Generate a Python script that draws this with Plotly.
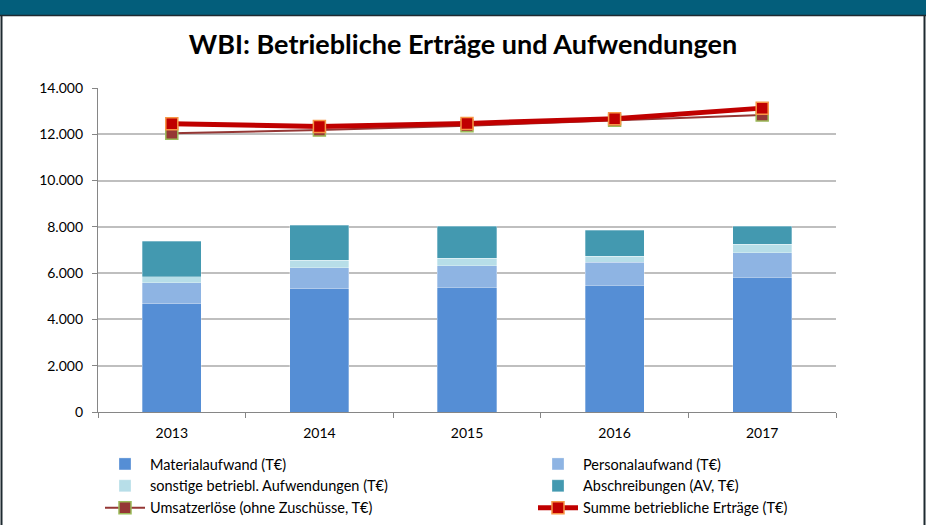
import plotly.graph_objects as go

years = ["2013", "2014", "2015", "2016", "2017"]
material = [4674, 5323, 5384, 5484, 5830]
personal = [909, 909, 935, 995, 1052]
sonstige = [260, 320, 333, 260, 363]
abschreibungen = [1545, 1515, 1385, 1125, 779]
umsatz = [12050, 12180, 12370, 12610, 12830]
summe = [12450, 12340, 12470, 12670, 13130]
y_ticks = [0, 2000, 4000, 6000, 8000, 10000, 12000, 14000]

W, H = 926, 525
L, R, T, B = 98, 90, 88, 113
PW, PH = W - L - R, H - T - B

def px(x):
    return (x - L) / PW

def py(y):
    return (H - B - y) / PH

font = "Lato, 'Open Sans', sans-serif"

fig = go.Figure()
bar_specs = [
    ("Materialaufwand (T€)", material, "#558ED5", "legend"),
    ("Personalaufwand (T€)", personal, "#8EB4E3", "legend2"),
    ("sonstige betriebl. Aufwendungen (T€)", sonstige, "#B7DEE8", "legend"),
    ("Abschreibungen (AV, T€)", abschreibungen, "#4399B0", "legend2"),
]
for name, vals, col, lg in bar_specs:
    fig.add_trace(go.Bar(x=years, y=vals, name=name, legend=lg,
                         marker=dict(color=col, line=dict(color="rgba(255,255,255,0.5)", width=0.6))))

fig.add_trace(go.Scatter(x=years, y=umsatz, name="Umsatzerlöse (ohne Zuschüsse, T€)",
                         mode="lines+markers", legend="legend",
                         line=dict(color="#953735", width=2),
                         marker=dict(symbol="square", size=12, color="#953735",
                                     line=dict(color="#9BBB59", width=1.5))))
fig.add_trace(go.Scatter(x=years, y=summe, name="Summe betriebliche Erträge (T€)",
                         mode="lines+markers", legend="legend2",
                         line=dict(color="#C00000", width=5),
                         marker=dict(symbol="square", size=12, color="#C00000",
                                     line=dict(color="#F79646", width=1.5))))

shapes = [
    dict(type="rect", xref="paper", yref="paper", x0=px(0), x1=px(W), y0=py(15), y1=py(0),
         fillcolor="#035E7B", line=dict(width=0), layer="below"),
    dict(type="line", xref="paper", yref="paper", x0=px(0), x1=px(W), y0=py(15.5), y1=py(15.5),
         line=dict(color="#1E2A30", width=1.5)),
    dict(type="line", xref="paper", yref="paper", x0=px(1.5), x1=px(1.5), y0=py(15), y1=py(H),
         line=dict(color="#1E2A30", width=2)),
    dict(type="line", xref="paper", yref="paper", x0=px(924.5), x1=px(924.5), y0=py(15), y1=py(H),
         line=dict(color="#1E2A30", width=2)),
]

legend_common = dict(orientation="v", xanchor="left", yanchor="top", traceorder="normal",
                     font=dict(family=font, size=14.5, color="#000000"),
                     bgcolor="rgba(0,0,0,0)", itemwidth=40, tracegroupgap=0)

fig.update_layout(
    width=W, height=H,
    margin=dict(l=L, r=R, t=T, b=B, autoexpand=False),
    paper_bgcolor="white", plot_bgcolor="white",
    barmode="stack", bargap=0.6,
    separators=",.",
    font=dict(family=font, size=14, color="#000000"),
    title=dict(text="<b>WBI: Betriebliche Erträge und Aufwendungen</b>",
               x=0.5, xanchor="center", y=1 - 45 / H, yanchor="middle",
               font=dict(family=font, size=27, color="#000000")),
    showlegend=True,
    legend=dict(x=px(100), y=py(448), **legend_common),
    legend2=dict(x=px(533), y=py(448), **legend_common),
    shapes=shapes,
)
fig.update_xaxes(showline=True, linecolor="#868686", linewidth=1.3,
                 ticks="outside", tickson="boundaries", ticklen=5, tickcolor="#868686",
                 showgrid=False, tickfont=dict(size=14), ticklabelstandoff=8)
fig.update_yaxes(range=[0, 14000], tickvals=y_ticks, tickformat=",d",
                 showline=True, linecolor="#868686", linewidth=1.3,
                 ticks="outside", ticklen=5, tickcolor="#868686",
                 showgrid=True, gridcolor="#BFBFBF", gridwidth=1.5,
                 zeroline=False, tickfont=dict(size=14), ticklabelstandoff=6)

fig.write_html("out.html", config={"displayModeBar": False},
               post_script="document.body.style.margin='0';document.body.style.padding='0';")
